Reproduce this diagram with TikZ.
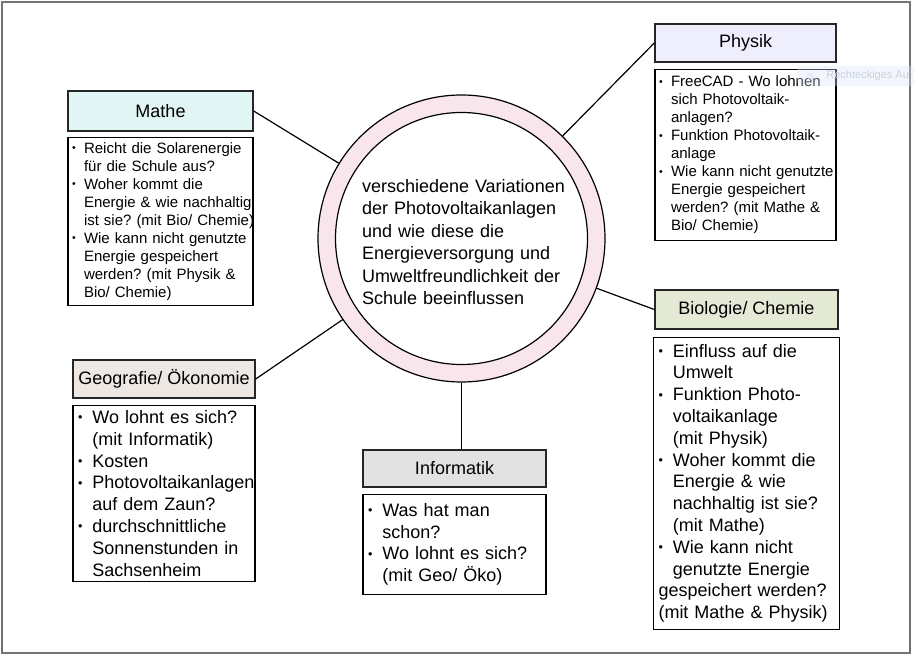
\documentclass[tikz,border=0pt]{standalone}
\usepackage{fontspec}
\setmainfont{Liberation Sans}
\usepackage{tikz}
\usepackage{xcolor}
\usetikzlibrary{positioning}
\definecolor{cFrame}{RGB}{115,115,115}
\definecolor{cRing}{RGB}{249,230,236}
\definecolor{cMathe}{RGB}{225,245,245}
\definecolor{cPhysik}{RGB}{238,238,252}
\definecolor{cBio}{RGB}{229,234,214}
\definecolor{cGeo}{RGB}{238,232,228}
\definecolor{cInfo}{RGB}{226,226,226}
\definecolor{cTip}{RGB}{222,232,250}
\definecolor{cTipText}{RGB}{200,208,222}
\frenchspacing
\newcommand{\bul}[1]{\mbox{\makebox[0.8em][l]{\raisebox{0.08em}{\scalebox{0.7}{\textbullet}}}#1}}
\newcommand{\cnt}[1]{\mbox{\hspace*{0.8em}#1}}
\tikzset{
	% subject headers and question boxes
	subject/.style ={rectangle, draw=black!85, line width=0.7pt, minimum height=19pt, align=center, font=\fontsize{9}{11}\selectfont},
	topics/.style  ={rectangle, draw=black, line width=0.6pt, fill=white, align=left, inner xsep=2.5pt, inner ysep=0pt, font=\fontsize{9}{10.9}\selectfont},
	smalltopics/.style={topics, inner xsep=2pt, font=\fontsize{7.5}{9}\selectfont},
	% centre ring
	ring/.style    ={circle, draw=black, line width=0.6pt, fill=cRing, minimum size=143.5pt, inner sep=0pt},
	core/.style    ={circle, draw=black, line width=0.6pt, fill=white, minimum size=126pt, inner sep=0pt},
	topic/.style   ={align=left, text width=104pt, inner sep=0pt, font=\fontsize{9}{11.25}\selectfont},
	link/.style    ={line width=0.6pt},
	frame/.style   ={draw=cFrame, line width=0.6pt},
}
\begin{document}
\begin{tikzpicture}[x=0.5pt, y=-0.5pt]
	\useasboundingbox (0,0) rectangle (914,657);
	\draw[frame] (2,2) rectangle (910,653);

	\node[ring] (ring) at (461.5,238.5) {};
	\node[core] (core) at (ring) {};
	\node[topic] (topic) at (466,242) {verschiedene Variationen\\der Photovoltaikanlagen\\und wie diese die\\Energieversorgung und\\Umweltfreundlichkeit der\\Schule beeinflussen};

	\node[subject, fill=cMathe, minimum width=92.5pt, minimum height=20pt] (mathe) at (160.5,111) {Mathe};
	\node[smalltopics, text width=88.5pt, minimum height=84pt, below=2.5pt of mathe] (matheQ) {\bul{Reicht die Solarenergie}\\\cnt{für die Schule aus?}\\\bul{Woher kommt die}\\\cnt{Energie \& wie nachhaltig}\\\cnt{ist sie? (mit Bio/ Chemie)}\\\bul{Wie kann nicht genutzte}\\\cnt{Energie gespeichert}\\\cnt{werden? (mit Physik \&}\\\cnt{Bio/ Chemie)}};

	\node[subject, fill=cPhysik, minimum width=90.5pt] (physik) at (745.5,43) {Physik};
	\node[smalltopics, text width=86.5pt, minimum height=85.5pt, below=3pt of physik] (physikQ) {\bul{FreeCAD - Wo lohnen}\\\cnt{sich Photovoltaik-}\\\cnt{anlagen?}\\\bul{Funktion Photovoltaik-}\\\cnt{anlage}\\\bul{Wie kann nicht genutzte}\\\cnt{Energie gespeichert}\\\cnt{werden? (mit Mathe \&}\\\cnt{Bio/ Chemie)}};

	\node[subject, fill=cBio, minimum width=91.5pt, minimum height=19.5pt] (bio) at (746.5,309.5) {Biologie/ Chemie};
	\node[topics, text width=88pt, minimum height=146pt, below=3.5pt of bio] (bioQ) {\bul{Einfluss auf die}\\\cnt{Umwelt}\\\bul{Funktion Photo-}\\\cnt{voltaikanlage}\\\cnt{(mit Physik)}\\\bul{Woher kommt die}\\\cnt{Energie \& wie}\\\cnt{nachhaltig ist sie?}\\\cnt{(mit Mathe)}\\\bul{Wie kann nicht}\\\cnt{genutzte Energie}\\\mbox{gespeichert werden?}\\\mbox{(mit Mathe \& Physik)}};

	\node[subject, fill=cGeo, minimum width=91pt, inner xsep=2pt] (geo) at (164,379) {Geografie/ Ökonomie};
	\node[topics, text width=86pt, minimum height=88pt, below=3pt of geo] (geoQ) {\bul{Wo lohnt es sich?}\\\cnt{(mit Informatik)}\\\bul{Kosten}\\\bul{Photovoltaikanlagen}\\\cnt{auf dem Zaun?}\\\bul{durchschnittliche}\\\cnt{Sonnenstunden in}\\\cnt{Sachsenheim}};

	\node[subject, fill=cInfo, minimum width=91.5pt, minimum height=18.5pt] (info) at (454.5,468.5) {Informatik};
	\node[topics, text width=86.5pt, minimum height=50pt, below=3pt of info] (infoQ) {\bul{Was hat man}\\\cnt{schon?}\\\bul{Wo lohnt es sich?}\\\cnt{(mit Geo/ Öko)}};

	\draw[link] (mathe.east) -- (ring);
	\draw[link] (physik.west) -- (ring);
	\draw[link] (bio.west) -- (ring);
	\draw[link] (geo.east) -- (ring);
	\draw[link] (ring.south) -- (ring.south |- info.north);

	\fill[cTip, opacity=0.35, rounded corners=3pt] (797,66) rectangle (930,86);
	\fill[cTip, opacity=0.6] (810,76) circle (3.5);
	\node[anchor=west, text=cTipText, inner sep=0pt, font=\fontsize{5.5}{7}\selectfont] (tip) at (826,76) {Rechteckiges Au};
\end{tikzpicture}
\end{document}
